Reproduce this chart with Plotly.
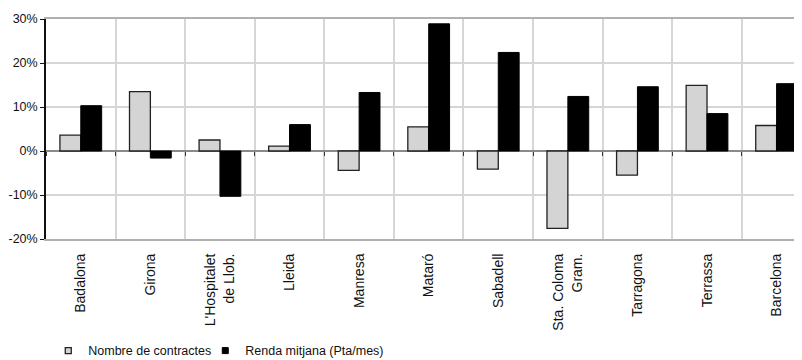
import plotly.graph_objects as go

cities = ["Badalona", "Girona", "L'Hospitalet<br>de Llob.", "Lleida", "Manresa", "Mataró",
          "Sabadell", "Sta. Coloma<br>Gram.", "Tarragona", "Terrassa", "Barcelona"]
nombre_contractes = [3.6, 13.5, 2.5, 1.1, -4.4, 5.5, -4.1, -17.6, -5.5, 14.9, 5.8]
renda_mitjana = [10.3, -1.6, -10.3, 6.0, 13.3, 28.9, 22.4, 12.4, 14.6, 8.5, 15.3]
y_ticks = [-20, -10, 0, 10, 20, 30]
y_tick_labels = [f"{v}%" for v in y_ticks]

FONT = "Liberation Sans, Arial, sans-serif"
GRAY = "#d4d4d4"
EDGE = "#222222"

fig = go.Figure()
fig.add_trace(go.Bar(
    x=cities, y=nombre_contractes, name="Nombre de contractes",
    legendgroup="a", showlegend=False,
    marker=dict(color=GRAY, line=dict(color=EDGE, width=1.3)),
))
fig.add_trace(go.Bar(
    x=cities, y=renda_mitjana, name="Renda mitjana (Pta/mes)",
    legendgroup="b", showlegend=False,
    marker=dict(color="#000000", line=dict(color="#000000", width=1)),
))
# legend entries with small square keys
fig.add_trace(go.Scatter(
    x=[None], y=[None], mode="markers", name="Nombre de contractes", legendgroup="a",
    legendwidth=112,
    marker=dict(symbol="square", size=6, color=GRAY, line=dict(color=EDGE, width=1.3)),
))
fig.add_trace(go.Scatter(
    x=[None], y=[None], mode="markers", name="Renda mitjana (Pta/mes)", legendgroup="b",
    legendwidth=170,
    marker=dict(symbol="square", size=6, color="#000000", line=dict(color="#000000", width=1)),
))
# invisible helper trace so the zero-line tick axis is drawn
fig.add_trace(go.Scatter(
    x=cities, y=[0] * len(cities), xaxis="x2", yaxis="y", mode="markers",
    marker=dict(opacity=0), showlegend=False, hoverinfo="skip",
))

rng = [-0.5, 10.365]
fig.update_layout(
    width=794, height=360,
    margin=dict(l=38, r=0, t=11, b=129),
    paper_bgcolor="white", plot_bgcolor="white",
    barmode="group", bargap=0.4, bargroupgap=0,
    font=dict(family=FONT, color="#111111"),
    xaxis=dict(
        type="category", categoryarray=cities, range=rng, automargin=False,
        tickson="boundaries", showgrid=True, gridcolor="#d6d6d6", gridwidth=1.5,
        ticks="", tickangle=-90, ticklabelstandoff=7,
        tickfont=dict(size=14, family=FONT, color="#111111"),
        showline=True, linecolor="#b0b0b0", linewidth=2, mirror=True,
        zeroline=False,
    ),
    xaxis2=dict(
        type="category", categoryarray=cities, range=rng, overlaying="x",
        anchor="free", position=0.4, side="bottom",
        tickson="boundaries", ticks="outside", ticklen=4, tickwidth=1.3, tickcolor="#333333",
        showticklabels=False, showgrid=False, showline=False, zeroline=False,
    ),
    yaxis=dict(
        range=[-20, 30], tickvals=y_ticks, ticktext=y_tick_labels, automargin=False,
        showgrid=True, gridcolor="#d6d6d6", gridwidth=1.5,
        zeroline=True, zerolinecolor="#8a8a8a", zerolinewidth=1.5,
        showline=True, linecolor="#111111", linewidth=1.6,
        ticks="outside", ticklen=4, tickcolor="#111111", tickwidth=1.2,
        tickfont=dict(size=12.5, family=FONT, color="#111111"),
    ),
    legend=dict(
        orientation="h", x=0.003, xanchor="left", y=-0.509, yanchor="middle",
        font=dict(size=12.5, family=FONT, color="#111111"),
        itemwidth=30, bgcolor="rgba(0,0,0,0)", traceorder="normal",
    ),
    showlegend=True,
)

fig.write_html("out.html")
